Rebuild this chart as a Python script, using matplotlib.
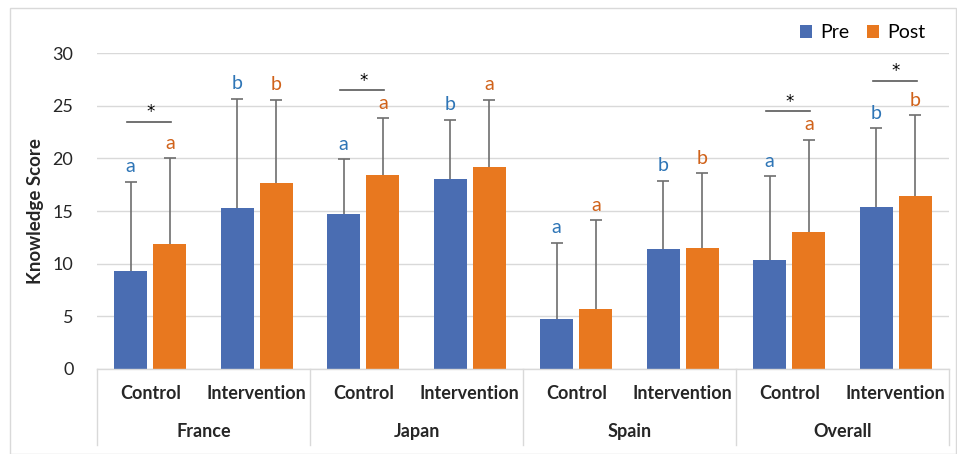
import matplotlib.pyplot as plt
from matplotlib.patches import Rectangle
from matplotlib.transforms import blended_transform_factory
import numpy as np

plt.rcParams["font.family"] = ["Lato", "DejaVu Sans"]

countries = ["France", "Japan", "Spain", "Overall"]
groups = ["Control", "Intervention"]

pre_mean = [9.25, 15.3, 14.7, 18.0, 4.75, 11.4, 10.35, 15.35]
post_mean = [11.9, 17.7, 18.4, 19.2, 5.7, 11.45, 13.0, 16.4]
pre_top = [17.8, 25.7, 19.9, 23.7, 12.0, 17.9, 18.3, 22.9]
post_top = [20.0, 25.6, 23.8, 25.6, 14.1, 18.6, 21.8, 24.1]

pre_letters = ["a", "b", "a", "b", "a", "b", "a", "b"]
post_letters = ["a", "b", "a", "a", "a", "b", "a", "b"]

# significance brackets: (category index, height)
sig_marks = [(0, 23.5), (2, 26.5), (6, 24.5), (7, 27.4)]

PRE_COLOR = "#4A6DB2"
POST_COLOR = "#E8781F"
PRE_TEXT = "#2E75B6"
POST_TEXT = "#D0621A"
ERR_COLOR = "#6E6E6E"
GRID_COLOR = "#D9D9D9"
TEXT_COLOR = "#262626"

fig = plt.figure(figsize=(9.57, 4.54), dpi=100)
fig.patch.set_facecolor("white")
fig.add_artist(Rectangle((10 / 957, 0.0), 946 / 957, 1 - 8 / 454,
                         transform=fig.transFigure, fill=False,
                         edgecolor="#D9D9D9", linewidth=1))

ax = fig.add_axes([97 / 957, 85.3 / 454, 852 / 957, 315.4 / 454])

x = np.arange(len(pre_mean))
width = 0.31
offset = 0.185

pre_err = np.array(pre_top) - np.array(pre_mean)
post_err = np.array(post_top) - np.array(post_mean)
zeros = np.zeros(len(x))

ax.bar(x - offset, pre_mean, width, color=PRE_COLOR, label="Pre", zorder=2)
ax.bar(x + offset, post_mean, width, color=POST_COLOR, label="Post", zorder=2)
for pos, mean, err in [(x - offset, pre_mean, pre_err), (x + offset, post_mean, post_err)]:
    eb = ax.errorbar(pos, mean, yerr=[zeros, err], fmt="none", ecolor=ERR_COLOR,
                     elinewidth=1.2, capsize=4, capthick=1.2, zorder=3)
    # only the upper cap is shown
    eb.lines[1][0].set_visible(False)

for i in range(len(x)):
    ax.text(x[i] - offset, pre_top[i] + 0.6, pre_letters[i], color=PRE_TEXT,
            fontsize=14, ha="center", va="bottom")
    ax.text(x[i] + offset, post_top[i] + 0.6, post_letters[i], color=POST_TEXT,
            fontsize=14, ha="center", va="bottom")

for idx, height in sig_marks:
    ax.plot([idx - offset - 0.03, idx + offset + 0.01], [height, height],
            color="#595959", linewidth=1.2, zorder=3)
    ax.text(idx, height + 0.9, "*", fontsize=12, ha="center", va="center",
            color="black", family="DejaVu Sans")

ax.set_xlim(-0.5, len(x) - 0.5)
ax.set_ylim(0, 30)
ax.set_yticks(range(0, 31, 5))
ax.tick_params(axis="y", length=0, labelsize=13, pad=17, labelcolor=TEXT_COLOR)
ax.set_xticks([])
ax.grid(axis="y", color=GRID_COLOR, linewidth=1, zorder=0)
ax.set_axisbelow(True)
for side in ["top", "right", "left"]:
    ax.spines[side].set_visible(False)
ax.spines["bottom"].set_color(GRID_COLOR)
ax.spines["bottom"].set_linewidth(1)

ax.set_ylabel("Knowledge Score", fontsize=13.5, fontweight="bold",
              color=TEXT_COLOR, labelpad=6)

trans = blended_transform_factory(ax.transData, ax.transAxes)
for i in range(len(x)):
    ax.text(x[i], -0.08, groups[i % 2], transform=trans, ha="center",
            va="center", fontsize=13, fontweight="bold", color=TEXT_COLOR)
for c, name in enumerate(countries):
    ax.text(2 * c + 0.5, -0.2, name, transform=trans, ha="center",
            va="center", fontsize=13, fontweight="bold", color=TEXT_COLOR)
for b in range(len(countries) + 1):
    ax.plot([2 * b - 0.5, 2 * b - 0.5], [0, -0.242], transform=trans,
            color=GRID_COLOR, linewidth=1, clip_on=False)

ax.legend(loc="center right", bbox_to_anchor=(933 / 957, 1 - 33 / 454),
          bbox_transform=fig.transFigure, ncol=2, frameon=False,
          fontsize=14, handlelength=0.65, handleheight=0.65,
          handletextpad=0.4, columnspacing=0.9, borderaxespad=0)

fig.savefig("out.png", dpi=100)
